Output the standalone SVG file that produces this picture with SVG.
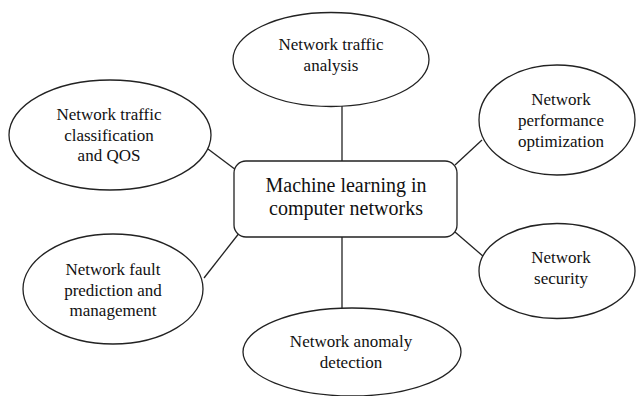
<svg xmlns="http://www.w3.org/2000/svg" width="636" height="396" viewBox="0 0 636 396">
<style>
.shape{fill:#fff;stroke:#222;stroke-width:1.3}
.conn line{stroke:#222;stroke-width:1.3}
.lbl{font-family:"Liberation Serif","Times New Roman",Times,Tinos,"Noto Serif","DejaVu Serif",FreeSerif,"Nimbus Roman",serif;font-size:17px;fill:#111;text-anchor:middle}
.main{font-size:20px}
</style>
<rect width="636" height="396" fill="#fff"/>
<g id="connectors" class="conn">
<line x1="342" y1="106" x2="342" y2="161"/>
<line x1="342" y1="237" x2="342" y2="308"/>
<line x1="208" y1="149" x2="236" y2="170"/>
<line x1="455" y1="165" x2="482" y2="140"/>
<line x1="204" y1="278" x2="240" y2="232"/>
<line x1="455" y1="232" x2="484" y2="257"/>
</g>
<g id="center">
<rect class="shape" x="234" y="161" width="223" height="76" rx="12"/>
<text class="lbl main" x="346" y="192">Machine learning in</text>
<text class="lbl main" x="346" y="215">computer networks</text>
</g>
<g id="traffic-analysis">
<ellipse class="shape" cx="331" cy="59.5" rx="98" ry="47"/>
<text class="lbl" x="331" y="50">Network traffic</text>
<text class="lbl" x="331" y="71">analysis</text>
</g>
<g id="traffic-classification">
<ellipse class="shape" cx="110" cy="135" rx="101" ry="55"/>
<text class="lbl" x="109" y="120">Network traffic</text>
<text class="lbl" x="109" y="141">classification</text>
<text class="lbl" x="109" y="161">and QOS</text>
</g>
<g id="performance">
<ellipse class="shape" cx="557" cy="120" rx="78" ry="55"/>
<text class="lbl" x="561" y="105">Network</text>
<text class="lbl" x="561" y="126">performance</text>
<text class="lbl" x="561" y="147">optimization</text>
</g>
<g id="fault">
<ellipse class="shape" cx="113" cy="289" rx="90" ry="55"/>
<text class="lbl" x="113" y="275">Network fault</text>
<text class="lbl" x="113" y="296">prediction and</text>
<text class="lbl" x="113" y="316">management</text>
</g>
<g id="anomaly">
<ellipse class="shape" cx="352" cy="352" rx="109" ry="44"/>
<text class="lbl" x="351" y="347">Network anomaly</text>
<text class="lbl" x="351" y="368">detection</text>
</g>
<g id="security">
<ellipse class="shape" cx="557" cy="271" rx="78" ry="47.5"/>
<text class="lbl" x="561" y="263">Network</text>
<text class="lbl" x="561" y="284">security</text>
</g>
</svg>
